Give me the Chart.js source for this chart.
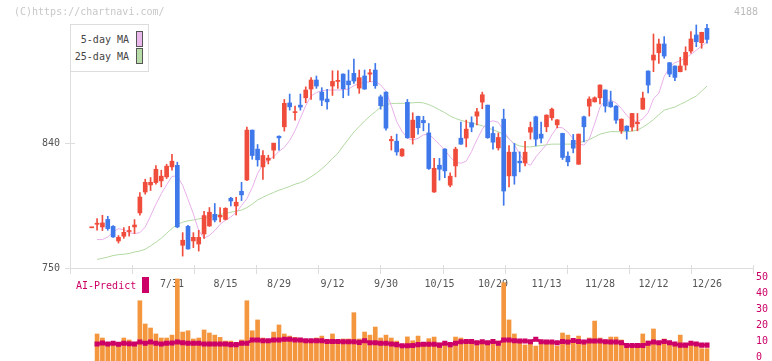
<!DOCTYPE html>
<html>
<head>
<meta charset="utf-8">
<script src="https://cdn.jsdelivr.net/npm/chart.js@4"></script>
<style>
  body { margin: 0; background: #fff; }
  .wrap { position: relative; width: 772px; height: 361px; font: 10px 'DejaVu Sans Mono', monospace; overflow: hidden; }
  .wrap canvas { position: absolute; left: 0; top: 0; }
  .txt { position: absolute; line-height: 12px; white-space: nowrap; }
  .box { position: absolute; box-sizing: border-box; }
</style>
</head>
<body>
<div class="wrap">
  <canvas id="price" width="772" height="361"></canvas>
  <canvas id="vol" width="772" height="361"></canvas>
  <div class="txt" style="left:14px;top:6px;color:#c8c8c8">(C)https://chartnavi.com/</div>
  <div class="txt" style="left:734px;top:6px;color:#bbb">4188</div>
  <div class="box" style="left:70px;top:24px;width:79px;height:48px;border:1px solid #ddd;background:#fff"></div>
  <div class="txt" style="left:70px;width:59px;top:34px;text-align:right;color:#444">5-day MA</div>
  <div class="box" style="left:136px;top:31px;width:7px;height:16px;border:1px solid #555;background:#eab8ea"></div>
  <div class="txt" style="left:70px;width:59px;top:51px;text-align:right;color:#444">25-day MA</div>
  <div class="box" style="left:136px;top:48px;width:7px;height:16px;border:1px solid #555;background:#b8dca8"></div>
  <div class="txt" style="left:76px;top:280px;color:#cc0066">AI-Predict</div>
  <div class="box" style="left:142px;top:277px;width:7px;height:16px;background:#cc0066"></div>
</div>
<script>
const tickLabels = ['7/31', '8/15', '8/29', '9/12', '9/30', '10/15', '10/29', '11/13', '11/28', '12/12', '12/26'];
const tickIdx = [15, 25, 35, 45, 55, 65, 75, 85, 95, 105, 115];
const priceTicks = [750, 840];
const volTicks = [0, 10, 20, 30, 40, 50];

const opens = [779,781.5,779.6,785,780,769.5,772.9,776.3,779.6,789.7,
  804.8,809.9,811.6,812.8,815.7,822.9,824,766.4,780,769.5,
  767.3,774.5,780.3,788.7,786.8,785,800.3,794.7,805.3,813.5,
  849.4,835.7,822.9,827.7,835,845,851.8,869,862,867.4,
  872.7,879,885.5,876.8,871.8,881.2,884.5,889.8,884.8,890.3,
  879.7,888.4,889.8,892.7,873.4,876.8,841.7,841.4,830.8,869.4,
  843.9,859.3,856.4,847.4,804.8,824.1,835.7,809.7,823.6,843.6,
  843.6,854.7,859.5,869.6,867.4,847,836.6,857.3,816.4,833.5,
  827,825.8,847.9,859,846.5,851.8,858.3,853.2,847,830.6,
  842,824.8,859,866.7,869.8,872.7,878.3,869.8,866.7,848.9,
  852.3,851.6,854,864.5,892,899.9,905.2,911.5,898,895.6,
  891.5,896.3,906.4,918,912.4,922.8];
const highs = [779,785.6,788,787.3,780.5,773.4,779.1,780,784.9,804.4,
  814,815.2,823.9,820.5,824.8,832,826.3,775.5,780.8,775.5,
  777.2,790.9,793.6,796.5,793.6,793.5,801,801,811.8,851.6,
  849.5,839,834.7,831.3,840,845.2,871.5,875.4,866.7,875.4,
  880.6,887.2,888.4,880,878.8,892.2,892.2,890,892.7,900.6,
  892.7,892.7,893.2,897.5,874.7,877,845,846.5,836,871.5,
  861.9,859.5,859.3,854.2,829,829,836,818.6,837.1,855.2,
  856.6,859,865.1,876.8,867.5,851.8,847.4,864.5,838.3,839.8,
  833.7,841.4,855.2,859.5,855.2,860.5,865.3,857,847.2,833.7,
  846.3,846.6,859.5,873.4,873.4,882,878.5,877.5,867,857.5,
  852.5,861.5,861.4,876.8,892.2,918.7,915.1,916.8,898.2,895.7,
  901.9,909.5,920.4,925.2,920,925.9];
const lows = [779,777.2,777,777.2,772,768,771.4,773,774.8,788,
  803.2,805.8,810.4,808.5,814.5,820.5,779,758.6,763.5,764.7,
  762.2,771.4,780,783.2,783.2,784.6,794.7,788.2,798.6,813,
  828.4,823.4,813.8,825,829,835,848.7,863.8,856.6,863.8,
  869.1,871.5,879.5,867,864.5,874.4,879.5,872.7,874.4,883.1,
  875.9,878.8,884.3,879.5,864.5,849.4,835,831.3,830.5,843.5,
  839.3,846.5,848.9,821,804.5,813.3,815.2,808.5,815.7,839,
  837.3,848.2,853.2,864.8,843.5,835.7,835,795.2,808.5,810.4,
  819.3,823.6,842.9,838.1,840.2,848.2,856.6,851,828.2,823.6,
  833,824.7,840.9,859.5,869.6,868.2,862.4,865.8,854.2,847,
  842.9,848.9,848.9,864.3,876.3,891.5,897.5,901.2,887.9,885,
  891.4,892.7,904.8,909.5,908.4,912];
const closes = [779,782.3,782.5,778.4,772.4,772.1,775.7,777,781,801.2,
  811.8,811.8,821.2,816.2,823.4,827,779.6,770,763.7,772.1,
  772.1,787.8,790.2,784.6,788,793,798.3,797.4,802.7,849.4,
  831.1,828,831.1,829.2,840,843.8,868.7,866.2,862.6,866,
  878.3,885.5,881.2,871,869.8,884.5,885.3,879.2,882.1,884.8,
  887.2,879,890.7,881.4,867,850.8,842.7,833.7,835.7,843.9,
  856.6,851.1,854.7,821.7,821.9,821.2,820,816.2,835.7,839.3,
  850.1,851.6,862.6,874.9,843.9,840.7,844.1,805.5,833.5,816.4,
  825.8,833.5,851.3,842.9,843.6,860.2,864.5,856.8,829.7,826.5,
  836.4,846.5,851.8,871.8,872.7,881.9,866.7,866.2,856.6,857.3,
  848.9,861.4,855,872.5,881.9,903.5,911.5,902.8,889.8,887.4,
  895.6,905.5,915.1,913.1,919.9,914.8];
const ma5 = [null,770.5,770.5,772.4,776,778.4,777.5,775.5,774.8,775.5,
  779.5,787.5,796,803.5,810,816,816.5,809.5,799.5,789,
  777,771.5,773.5,777,781.5,784.5,786.8,790,795,800,
  808,818,825,827.7,830.3,834,837,842,849,858,
  867,874,876.5,877.8,878.3,878.3,878.3,878.5,879,881.5,
  883,883.8,884.2,884.5,882,877.5,867,855.5,848.5,843.5,
  842.2,843.5,846,846.5,843,839,835,830,826.3,825.5,
  827,834,842.5,850,855,856.1,855,849,843,839,
  832,826,824,830,834.5,839,846,851.5,851,848,
  843,839.5,838.6,843,854,866,871,871,869,865,
  860,856.5,855.4,857.5,862,872,876,888,895,898,
  899.5,901.5,904,907,910,913];
const ma25 = [null,756.2,757,757.9,759,759.6,759.9,760.5,761.5,762.3,
  763.5,766,768.5,771.5,775,778.5,781.5,783,784,784.6,
  785.4,786.2,787,787.8,788.6,789.4,790.2,791,791.8,793.5,
  796,799,801,802.8,804.5,806.1,807.4,808.8,810.4,811.5,
  813.3,815.8,818.3,821.5,825,829,832.6,838,843,848,
  852,856,859.5,862.6,866,867.8,868.6,868.7,868.7,868.9,
  869.1,869.4,869,867.8,866,864,862,859.5,857.8,856.5,
  855.4,854.5,853.6,852.5,851.2,849.6,848.2,846.5,843,839.5,
  838,837.3,837.3,837.8,838.3,838.8,839.3,839.3,839.3,839.3,
  839.3,840.2,841.3,842.6,844.5,846.5,847.5,848.3,848.3,848.2,
  848.3,848.6,849.5,851.5,854,857,860.5,863.8,865,866,
  868,869.8,872,874,877.5,881.2];
const volume = [null,14.7,12.2,8.9,9.3,7.2,12.2,11,8.5,35.3,
  20.9,18.4,14.7,12.2,12.2,14,48.8,15.9,16.7,11.6,
  12.2,17.2,15.3,14,12.6,10.3,10.3,8.9,11,35.3,
  16.7,23.4,12.2,11.4,15.9,20.3,14.7,13.4,12.6,11.4,
  11,11.4,12.2,13.4,11,14.7,11,11.6,11.6,27.9,
  11.6,15.9,14,19,12.2,14,12.2,10.3,8.4,12.9,
  10.5,13.4,8.9,11.8,12.8,9.1,9.9,7.2,12.8,12.2,
  9.9,8.5,10.3,9.5,9.3,10.3,10.3,46.5,23.4,14.7,
  10.3,7.9,9.9,7.2,9.5,9.9,9.5,7.2,15.3,14,
  10.3,13.4,10.3,12.2,22.7,12.2,11,12.8,12.8,11,
  7.2,7.2,7.2,14.7,10.3,17.8,8.9,11.6,9.9,8.9,
  14,8.9,8.9,7.9,5.6,5.6];
const aiPredict = [null,8.5,9.1,8.5,8.9,8.3,8.9,8.7,8.5,9.7,
  8.9,9.7,8.9,8.5,8.9,9.1,9.7,9.3,8.9,8.9,
  8.9,8.5,8.5,8.5,8.5,8.5,8.1,8.1,8.9,8.9,
  11,11,10.5,10.5,11,11,11.4,11.4,11,11,
  10.5,10.5,10.5,10.5,10.1,10.1,10.1,9.9,9.9,9.9,
  9.5,10.5,9.3,9.3,8.9,8.9,8.5,8.1,7.4,7.4,
  7.6,8.1,8.3,8.3,8.3,7.8,8.9,8.1,8.9,9.9,
  10.1,10.1,9.3,9.9,9.3,10.1,8.9,11,11,10.5,
  10.3,10.3,9.9,11.4,9.9,9.7,9.7,9.3,10.1,9.7,
  10.7,10.1,9.7,10.3,10.3,10.3,9.9,9.7,9.7,9.3,
  7.6,7.6,7.6,7.6,8.9,9.7,9.3,10.1,9.3,8.5,
  7.8,7.8,8.9,8.5,7.8,7.8];

const UP = '#f04c3c', DOWN = '#3f78ea', AXIS = '#dddddd', MAGENTA = '#cc0066';
const X_MIN = -4.06, X_MAX = 123.6;
const VOL_MIN = -2.05;
const FONT = { family: "'DejaVu Sans Mono', monospace", size: 10 };

Chart.defaults.font = FONT;
Chart.defaults.animation = false;

const pts = arr => arr.map((v, i) => ({ x: i, y: v }));
const candleColor = closes.map((c, i) => c >= opens[i] ? UP : DOWN);

const frame = {
  id: 'frame',
  beforeDatasetsDraw(chart) {
    const { ctx, chartArea: a, scales: { y } } = chart;
    ctx.save();
    ctx.strokeStyle = AXIS;
    ctx.lineWidth = 1;
    ctx.beginPath();
    ctx.moveTo(a.left + 0.5, a.top);
    ctx.lineTo(a.left + 0.5, a.bottom + 0.5);
    ctx.lineTo(a.right, a.bottom + 0.5);
    priceTicks.forEach(v => {
      const py = Math.round(y.getPixelForValue(v)) + 0.5;
      ctx.moveTo(a.left - 5, py); ctx.lineTo(a.left + 5, py);
    });
    for (let k = 0; k <= 11; k++) {
      const px = Math.round(a.left + k * (a.right - a.left) / 11) + 0.5;
      ctx.moveTo(px, a.bottom - 3); ctx.lineTo(px, a.bottom + 6);
    }
    ctx.stroke();
    ctx.restore();
  }
};

new Chart(document.getElementById('price'), {
  type: 'bar',
  data: {
    datasets: [
      { data: opens.map((o, i) => ({ x: i, y: [lows[i], highs[i]] })), backgroundColor: candleColor, barThickness: 1, grouped: false, order: 2 },
      { data: opens.map((o, i) => ({ x: i, y: [o, closes[i]] })), backgroundColor: candleColor, barThickness: 4, minBarLength: 1, grouped: false, order: 1 },
      { type: 'line', data: pts(ma5), borderColor: '#e8b0ea', borderWidth: 1, pointRadius: 0, order: 3 },
      { type: 'line', data: pts(ma25), borderColor: '#b2d9a2', borderWidth: 1, pointRadius: 0, order: 4 }
    ]
  },
  options: {
    responsive: false,
    events: [],
    layout: { autoPadding: false, padding: { top: 24, right: 19, left: 0, bottom: 0 } },
    plugins: { legend: { display: false }, tooltip: { enabled: false } },
    scales: {
      x: {
        type: 'linear', min: X_MIN, max: X_MAX, offset: false,
        grid: { display: false, drawTicks: false }, border: { display: false },
        afterBuildTicks: s => { s.ticks = tickIdx.map(v => ({ value: v })); },
        afterFit: s => { s.height = 93; },
        ticks: { color: '#555', padding: 10, maxRotation: 0, autoSkip: false,
          callback: v => tickLabels[tickIdx.indexOf(v)] }
      },
      y: {
        min: 750, max: Math.max(...highs),
        grid: { display: false, drawTicks: false }, border: { display: false },
        afterBuildTicks: s => { s.ticks = priceTicks.map(v => ({ value: v })); },
        afterFit: s => { s.width = 70; },
        ticks: { color: '#555', padding: 10 }
      }
    }
  },
  plugins: [frame]
});

new Chart(document.getElementById('vol'), {
  type: 'bar',
  data: {
    datasets: [
      { type: 'line', data: pts(aiPredict), borderColor: MAGENTA, backgroundColor: MAGENTA, borderWidth: 2.5,
        pointStyle: 'rect', pointRadius: 1.8, order: 1 },
      { data: pts(volume), backgroundColor: '#f3963e', barThickness: 4, base: VOL_MIN, order: 2 }
    ]
  },
  options: {
    responsive: false,
    events: [],
    layout: { autoPadding: false, padding: { top: 268, right: 0, left: 70, bottom: 0 } },
    plugins: { legend: { display: false }, tooltip: { enabled: false } },
    scales: {
      x: { type: 'linear', min: X_MIN, max: X_MAX, offset: false, display: false },
      y: {
        position: 'right', min: VOL_MIN, max: 55.6,
        grid: { display: false, drawTicks: false }, border: { display: false },
        afterBuildTicks: s => { s.ticks = volTicks.map(v => ({ value: v })); },
        afterFit: s => { s.width = 19; s.paddingTop = 0; s.paddingBottom = 0; },
        ticks: { color: MAGENTA, padding: 3 }
      }
    }
  }
});
</script>
</body>
</html>
